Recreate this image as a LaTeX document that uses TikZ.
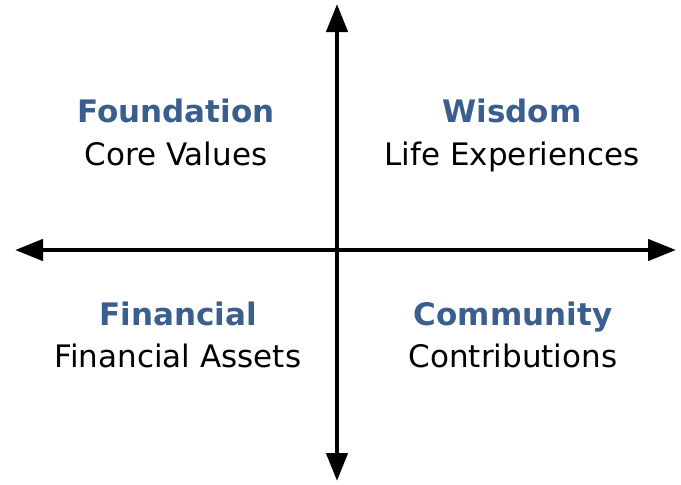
\documentclass[tikz,border=0pt]{standalone}
\usepackage{fontspec}
\setmainfont{DejaVu Sans}
\usepackage{xcolor}
\usetikzlibrary{arrows.meta}
\definecolor{headblue}{HTML}{3A5F8F}

\begin{document}
\begin{tikzpicture}[x=1pt,y=-1pt,
  axis/.style={line width=4.5pt,-{Triangle[length=28pt,width=21pt]}},
  head/.style={font=\fontsize{31}{36}\selectfont\bfseries,text=headblue,anchor=base},
  sub/.style={font=\fontsize{31}{36}\selectfont,anchor=base}]
\useasboundingbox (0,0) rectangle (681,485);

% axes
\coordinate (origin) at (337,250);
\coordinate (top) at (337,4);
\coordinate (bottom) at (337,481);
\coordinate (west) at (15,250);
\coordinate (east) at (676,250);
\draw[axis] (origin) -- (top);
\draw[axis] (origin) -- (bottom);
\draw[axis] (origin) -- (west);
\draw[axis] (origin) -- (east);

% upper left
\node[head] (foundation) at (176,122) {Foundation};
\node[sub] (corevalues) at (176,165) {Core Values};

% upper right
\node[head] (wisdom) at (512,122) {Wisdom};
\node[sub] (life) at (512,165) {Life Experiences};

% lower left
\node[head] (financial) at (178,325) {Financial};
\node[sub] (assets) at (178,367) {Financial Assets};

% lower right
\node[head] (community) at (513,325) {Community};
\node[sub] (contrib) at (513,367) {Contributions};
\end{tikzpicture}
\end{document}
